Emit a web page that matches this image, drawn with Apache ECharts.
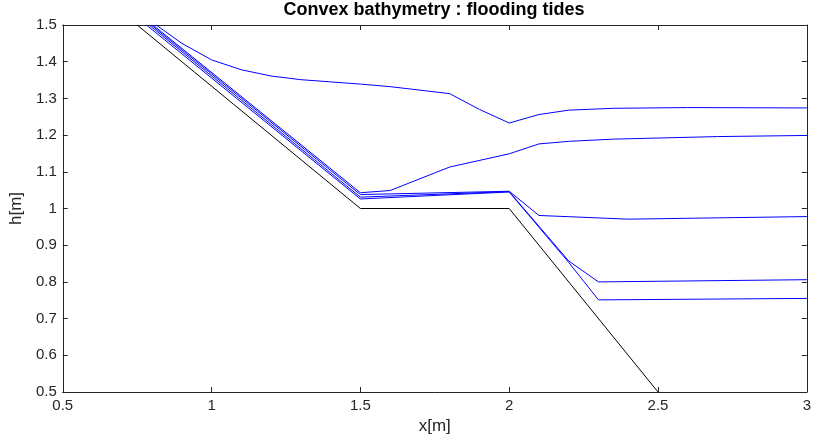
<!DOCTYPE html>
<html>
<head>
<meta charset="utf-8">
<script src="https://cdn.jsdelivr.net/npm/echarts@6/dist/echarts.min.js"></script>
<style>html,body{margin:0;padding:0;background:#fff}#c{width:814px;height:441px}</style>
</head>
<body>
<div id="c"></div>
<script>
// Bathymetry (black)
const bedX = [0.75, 1.5, 2.0, 2.5];
const bedH = [1.5, 1.0, 1.0, 0.5];
// Water surface profiles (blue)
const aX = [0.814, 0.9, 1.0, 1.1, 1.2, 1.3, 1.5, 1.6, 1.8, 1.9, 2.0, 2.1, 2.2, 2.35, 2.6, 3.0];
const aH = [1.5, 1.45, 1.405, 1.378, 1.361, 1.351, 1.339, 1.332, 1.313, 1.270, 1.233, 1.256, 1.268, 1.273, 1.275, 1.274];
const bX = [0.803, 1.5, 1.6, 1.8, 2.0, 2.1, 2.2, 2.35, 2.7, 3.0];
const bH = [1.5, 1.043, 1.049, 1.113, 1.149, 1.176, 1.183, 1.189, 1.196, 1.199];
const cX = [0.797, 1.5, 2.0, 2.1, 2.4, 3.0];
const cH = [1.5, 1.038, 1.047, 0.981, 0.971, 0.978];
const dX = [0.79, 1.5, 2.0, 2.2, 2.3, 3.0];
const dH = [1.5, 1.031, 1.046, 0.857, 0.800, 0.806];
const eX = [0.781, 1.5, 2.0, 2.2, 2.3, 3.0];
const eH = [1.5, 1.026, 1.045, 0.853, 0.751, 0.755];

const title = 'Convex bathymetry : flooding tides';
const xName = 'x[m]';
const yName = 'h[m]';

function pairs(xs, ys) { return xs.map((x, i) => [x, ys[i]]); }

const font = 'Liberation Sans, Arial, Helvetica, sans-serif';
const axisColor = '#262626';

function blue(xs, ys) {
  return { type: 'line', data: pairs(xs, ys), symbol: 'none', lineStyle: { color: '#0000ff', width: 1 }, itemStyle: { color: '#0000ff' }, clip: true, animation: false };
}

const chart = echarts.init(document.getElementById('c'), null, { renderer: 'canvas' });
chart.setOption({
  animation: false,
  title: { text: title, left: 434, top: 1, padding: 0, textAlign: 'center', textStyle: { fontFamily: font, fontSize: 18, fontWeight: 'bold', color: '#000' } },
  grid: { left: 59, right: 6, top: 25, bottom: 49, containLabel: false },
  xAxis: [
    { type: 'value', min: 0.5, max: 3, interval: 0.5, position: 'bottom',
      name: xName, nameLocation: 'middle', nameGap: 26, nameTextStyle: { fontFamily: font, fontSize: 17, color: '#262626' },
      axisLine: { show: true, lineStyle: { color: axisColor, width: 1 } },
      axisTick: { show: true, inside: true, length: 5, lineStyle: { color: axisColor } },
      axisLabel: { fontFamily: font, fontSize: 15, color: '#262626', margin: 6 },
      splitLine: { show: false } },
    { type: 'value', min: 0.5, max: 3, interval: 0.5, position: 'top',
      axisLine: { show: true, lineStyle: { color: axisColor, width: 1 } },
      axisTick: { show: true, inside: true, length: 5, lineStyle: { color: axisColor } },
      axisLabel: { show: false }, splitLine: { show: false } }
  ],
  yAxis: [
    { type: 'value', min: 0.5, max: 1.5, interval: 0.1, position: 'left',
      name: yName, nameLocation: 'middle', nameGap: 32, nameTextStyle: { fontFamily: font, fontSize: 17, color: '#262626' },
      axisLine: { show: true, lineStyle: { color: axisColor, width: 1 } },
      axisTick: { show: true, inside: true, length: 5, lineStyle: { color: axisColor } },
      axisLabel: { fontFamily: font, fontSize: 15, color: '#262626', margin: 6, formatter: v => String(Math.round(v * 10) / 10) },
      splitLine: { show: false } },
    { type: 'value', min: 0.5, max: 1.5, interval: 0.1, position: 'right',
      axisLine: { show: true, lineStyle: { color: axisColor, width: 1 } },
      axisTick: { show: true, inside: true, length: 5, lineStyle: { color: axisColor } },
      axisLabel: { show: false }, splitLine: { show: false } }
  ],
  series: [
    { type: 'line', data: pairs(bedX, bedH), symbol: 'none', lineStyle: { color: '#000', width: 1 }, itemStyle: { color: '#000' }, clip: true },
    blue(aX, aH), blue(bX, bH), blue(cX, cH), blue(dX, dH), blue(eX, eH)
  ]
});
</script>
</body>
</html>
